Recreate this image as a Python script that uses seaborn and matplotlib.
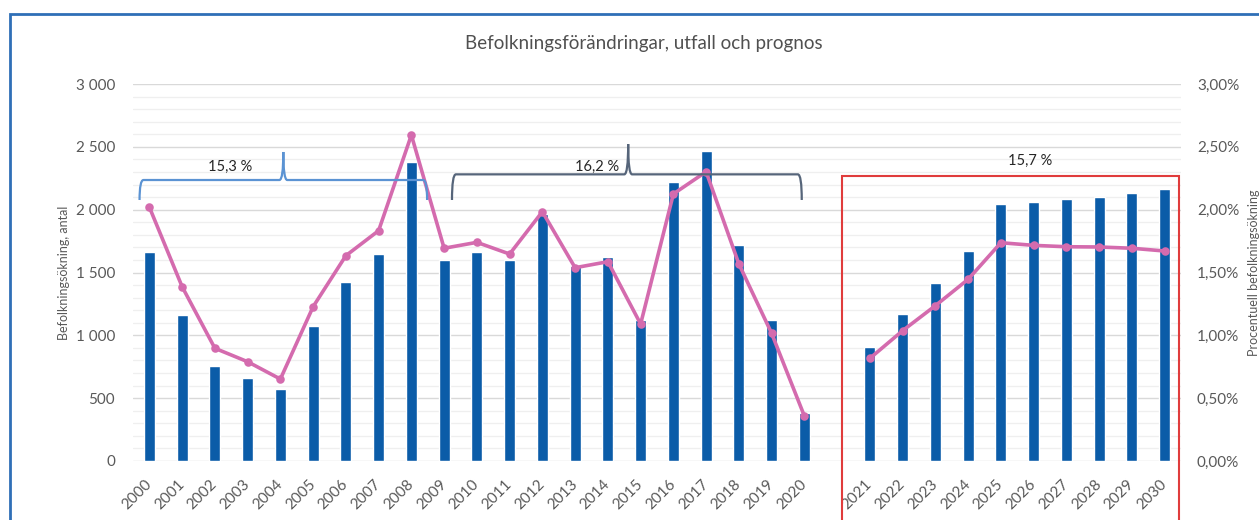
import matplotlib
matplotlib.use("Agg")
import matplotlib.pyplot as plt
from matplotlib.patches import Rectangle, PathPatch
from matplotlib.path import Path
from matplotlib.ticker import FuncFormatter, MultipleLocator
import matplotlib.transforms as mtransforms
import numpy as np
import pandas as pd
import seaborn as sns

# ---------------- data ----------------
years_hist = [str(y) for y in range(2000, 2021)]
bars_hist = [1660, 1165, 752, 662, 570, 1075, 1428, 1645, 2378, 1598,
             1660, 1598, 1965, 1548, 1625, 1122, 2222, 2470, 1718, 1122, 385]
pct_hist = [2.02, 1.387, 0.897, 0.790, 0.652, 1.228, 1.634, 1.833, 2.594, 1.693,
            1.740, 1.647, 1.984, 1.538, 1.586, 1.090, 2.125, 2.302, 1.568, 1.016, 0.358]
years_prog = [str(y) for y in range(2021, 2031)]
bars_prog = [905, 1167, 1414, 1674, 2043, 2058, 2088, 2103, 2135, 2162]
pct_prog = [0.817, 1.037, 1.236, 1.446, 1.737, 1.716, 1.705, 1.703, 1.693, 1.671]
gap_label = " "

title = "Befolkningsförändringar, utfall och prognos"
ylabel_left = "Befolkningsökning, antal"
ylabel_right = "Procentuell befolkningsökning"
period_labels = ["15,3 %", "16,2 %", "15,7 %"]

# ---------------- style ----------------
sns.set_theme(style="white")
FONT = ["Lato", "DejaVu Sans"]
plt.rcParams["font.family"] = FONT

BAR = "#0B5CA8"
LINE = "#D46BAE"
GRAY_TXT = "#595959"

order = years_hist + [gap_label] + years_prog
df_bars = pd.DataFrame({"year": years_hist + [gap_label] + years_prog,
                        "value": bars_hist + [np.nan] + bars_prog})
df_hist = pd.DataFrame({"year": years_hist, "pct": pct_hist})
df_prog = pd.DataFrame({"year": years_prog, "pct": pct_prog})

W, H = 1259, 520
fig = plt.figure(figsize=(W / 100, H / 100), dpi=100)
ax = fig.add_axes([133 / W, 1 - 461 / H, (1181 - 133) / W, (461 - 84) / H])

sns.barplot(data=df_bars, x="year", y="value", order=order, color=BAR,
            width=0.34, saturation=1, ax=ax, zorder=2)
ax.set_ylim(0, 3000)
ax.set_xlim(-0.5, len(order) - 0.5)
ax.yaxis.set_major_locator(MultipleLocator(500))
ax.yaxis.set_minor_locator(MultipleLocator(100))
ax.yaxis.set_major_formatter(FuncFormatter(lambda v, p: f"{int(v):,}".replace(",", " ")))
ax.grid(which="major", axis="y", color="#D9D9D9", linewidth=1.0)
ax.grid(which="minor", axis="y", color="#EFEFEF", linewidth=0.9)
ax.grid(axis="x", visible=False)
ax.set_axisbelow(True)
for s in ax.spines.values():
    s.set_visible(False)
ax.tick_params(axis="y", which="both", length=0, pad=13, labelsize=11, labelcolor=GRAY_TXT)
ax.tick_params(axis="x", length=0, pad=15, labelsize=11, labelcolor=GRAY_TXT)
ax.set_xlabel("")
ax.set_ylabel(ylabel_left, fontsize=9, color=GRAY_TXT)
ax.yaxis.set_label_coords(-0.060, 0.5)

ax2 = ax.twinx()
for d in (df_hist, df_prog):
    sns.pointplot(data=d, x="year", y="pct", order=order, color=LINE,
                  markers="o", markersize=4.2, linewidth=2.6, errorbar=None, ax=ax2)
ax2.set_ylim(0, 3.0)
ax2.set_xlim(-0.5, len(order) - 0.5)
ax2.yaxis.set_major_locator(MultipleLocator(0.5))
ax2.yaxis.set_major_formatter(FuncFormatter(lambda v, p: f"{v:.2f}%".replace(".", ",")))
ax2.grid(False)
for s in ax2.spines.values():
    s.set_visible(False)
ax2.tick_params(axis="y", length=0, pad=11.5, labelsize=11, labelcolor=GRAY_TXT)
ax2.set_xlabel("")
ax2.set_ylabel(ylabel_right, fontsize=9, color=GRAY_TXT)
ax2.yaxis.set_label_coords(1.064, 0.5)

# x tick labels on the main axis
ax.set_xticks(range(len(order)))
ax.set_xticklabels(order)
for lab in ax.get_xticklabels():
    lab.set_rotation(45)
    lab.set_ha("right")
    lab.set_va("center")
    lab.set_rotation_mode("anchor")

# ---------------- braces ----------------
def brace(x0, x1, xm, y_line, y_end, y_peak, color):
    dx = 0.12
    verts = [
        (x0, y_end), (x0, y_line), (x0 + dx, y_line),
        (xm - dx, y_line), (xm, y_line), (xm, y_peak),
        (xm, y_line), (xm + dx, y_line),
        (x1 - dx, y_line), (x1, y_line), (x1, y_end),
    ]
    codes = [Path.MOVETO, Path.CURVE3, Path.CURVE3,
             Path.LINETO, Path.CURVE3, Path.CURVE3,
             Path.CURVE3, Path.CURVE3,
             Path.LINETO, Path.CURVE3, Path.CURVE3]
    p = PathPatch(Path(verts, codes), fill=False, edgecolor=color, lw=1.6,
                  transform=ax.transData, clip_on=False, zorder=5)
    ax2.add_patch(p)

brace(-0.30, 8.48, 4.09, 2236, 2077, 2459, "#5B93D3")
brace(9.24, 19.92, 14.62, 2281, 2077, 2522, "#56657A")

txt_kw = dict(fontsize=10.5, color="#262626", ha="center", va="center",
              transform=ax.transData, zorder=6)
ax2.text(2.46, 2342, period_labels[0], **txt_kw)
ax2.text(13.66, 2342, period_labels[1], **txt_kw)
ax2.text(26.9, 2390, period_labels[2], **txt_kw)

# red frame around forecast
ax2.add_patch(Rectangle((21.15, -800), 31.45 - 21.15, 2268 + 800, fill=False,
                        edgecolor="#E03C3C", lw=1.5, transform=ax.transData,
                        clip_on=False, zorder=6))

# title
fig.text(644 / W, 1 - 43 / H, title, ha="center", va="center", fontsize=13.5,
         color="#505050")

# outer chart border (blue)
fig.patches.append(Rectangle((10 / W, -0.1), 1.2, 1 - 14 / H + 0.1, fill=False,
                             edgecolor="#2F6FB7", lw=2.0, transform=fig.transFigure))

fig.savefig("out.png", dpi=100)
